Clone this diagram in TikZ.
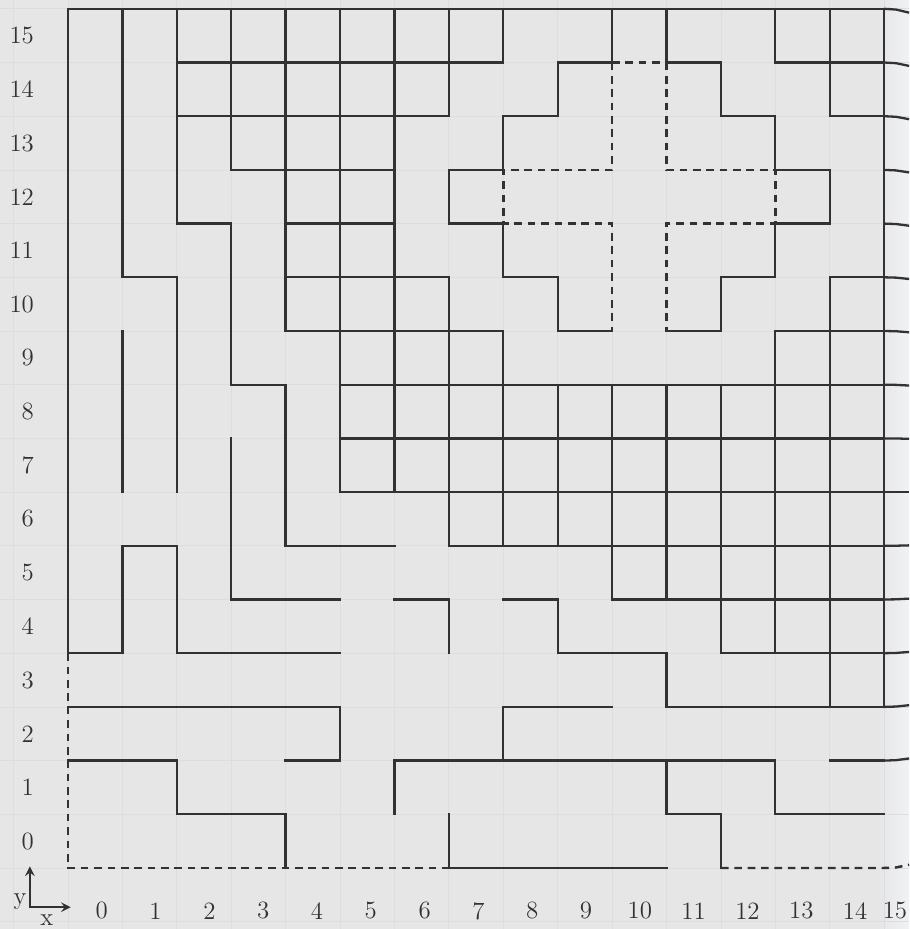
\documentclass[tikz,border=0pt]{standalone}
\usepackage{xcolor}
\usepackage{tikz}
\usetikzlibrary{arrows}
\definecolor{paper}{RGB}{230,230,230}
\definecolor{paperedge}{RGB}{240,242,245}
\definecolor{ink}{RGB}{50,50,50}
\definecolor{faint}{RGB}{221,221,221}
\tikzstyle{wall} = [line width=1.2pt, draw=ink, line cap=rect, line join=miter]
\tikzstyle{edgewall} = [line width=1.2pt, draw=ink, line join=round]
\tikzstyle{dashwall} = [line width=1.3pt, draw=ink, dash pattern=on 4pt off 3pt]
\tikzstyle{axislabel} = [text=ink, font=\fontsize{13}{15}\selectfont, inner sep=0pt]
\tikzstyle{arrow} = [line width=1.2pt, draw=ink, <->, >=stealth]

\begin{document}
\begin{tikzpicture}[x=1cm, y=0.987cm]
  \useasboundingbox (-1.25,-1.136) rectangle (15.46,16.164);
  \fill[paper] (-1.25,-1.136) rectangle (15.46,16.164);
  \shade[left color=paper, right color=paperedge] (14.9,-1.136) rectangle (15.46,16.164);
  \draw[faint, line width=0.4pt, step=1] (-1.25,-1.136) grid (15.46,16.164);

  % outer walls and corridors on the left
  \draw[wall] (0,16) -- (15,16);
  \draw[wall] (0,16) -- (0,4) -- (1,4) -- (1,6) -- (2,6) -- (2,4) -- (5,4);
  \draw[wall] (1,16) -- (1,11) -- (2,11) -- (2,7);
  \draw[wall] (1,10) -- (1,7);
  \draw[wall] (2,16) -- (2,12) -- (3,12) -- (3,9) -- (4,9) -- (4,6) -- (6,6);
  \draw[wall] (3,8) -- (3,5) -- (5,5);
  \draw[wall] (6,5) -- (7,5) -- (7,4);
  \draw[wall] (0,3) -- (5,3) -- (5,2) -- (4,2);
  \draw[wall] (0,2) -- (2,2) -- (2,1) -- (4,1) -- (4,0);
  \draw[wall] (6,1) -- (6,2) -- (13,2) -- (13,1) -- (15,1);
  \draw[wall] (7,1) -- (7,0) -- (11,0);
  \draw[wall] (11,2) -- (11,1) -- (12,1) -- (12,0);
  \draw[wall] (8,2) -- (8,3) -- (10,3);
  \draw[wall] (8,5) -- (9,5) -- (9,4) -- (11,4) -- (11,3) -- (15,3);
  \draw[wall] (14,2) -- (15,2);

  % cells at the top left
  \draw[wall] (3,16) -- (3,13);
  \draw[wall] (4,16) -- (4,10);
  \draw[wall] (5,16) -- (5,7);
  \draw[wall] (6,16) -- (6,7);
  \draw[wall] (7,16) -- (7,14);
  \draw[wall] (7,11) -- (7,6);
  \draw[wall] (8,16) -- (8,15);
  \draw[wall] (8,10) -- (8,6);
  \draw[wall] (2,15) -- (8,15);
  \draw[wall] (2,14) -- (7,14);
  \draw[wall] (3,13) -- (6,13);
  \draw[wall] (4,12) -- (6,12);
  \draw[wall] (4,11) -- (7,11);
  \draw[wall] (4,10) -- (8,10);

  % cells at the right
  \foreach \j in {9,8,7} \draw[wall] (5,\j) -- (15,\j);
  \draw[wall] (7,6) -- (15,6);
  \draw[wall] (10,5) -- (15,5);
  \draw[wall] (12,4) -- (15,4);
  \draw[wall] (13,10) -- (15,10);
  \draw[wall] (14,11) -- (15,11);
  \draw[wall] (14,14) -- (15,14);
  \draw[wall] (13,15) -- (15,15);
  \draw[wall] (9,9) -- (9,6);
  \draw[wall] (10,9) -- (10,5);
  \draw[wall] (11,9) -- (11,5);
  \draw[wall] (12,9) -- (12,4);
  \draw[wall] (13,10) -- (13,4);
  \draw[wall] (14,11) -- (14,3);
  \draw[wall] (15,16) -- (15,3);
  \draw[wall] (13,16) -- (13,15);
  \draw[wall] (14,16) -- (14,14);
  % page bends away at the right
  \foreach \j [evaluate=\j as \bend using {(7-\j)*0.008}] in {2,...,16}
    \draw[edgewall] (15,\j) -- (15.22,{\j+0.2*\bend}) -- (15.46,{\j+\bend});

  % the cross
  \draw[wall] (10,16) -- (10,15) -- (9,15) -- (9,14) -- (8,14) -- (8,13) -- (7,13)
    -- (7,12) -- (8,12) -- (8,11) -- (9,11) -- (9,10) -- (10,10);
  \draw[wall] (11,16) -- (11,15) -- (12,15) -- (12,14) -- (13,14) -- (13,13) -- (14,13)
    -- (14,12) -- (13,12) -- (13,11) -- (12,11) -- (12,10) -- (11,10);
  \draw[dashwall] (10,15) -- (11,15);
  \draw[dashwall] (10,15) -- (10,13) -- (8,13) -- (8,12) -- (10,12) -- (10,10);
  \draw[dashwall] (11,15) -- (11,13) -- (13,13) -- (13,12) -- (11,12) -- (11,10);

  % dashed border
  \draw[dashwall] (0,4) -- (0,0) -- (7,0);
  \draw[dashwall] (12,0) -- (15,0) -- (15.22,0.01) -- (15.46,0.06);

  % labels
  \foreach \r in {0,...,15}
    \node[axislabel, anchor=east] (ylab\r) at (-0.62,\r+0.5) {\r};
  \foreach \c in {0,...,14}
    \node[axislabel] (xlab\c) at ({0.62+0.989*\c},-0.8) {\c};
  \node[axislabel] (xlab15) at (15.2,-0.8) {15};

  % axes sign
  \coordinate (origin) at (-0.7,-0.73);
  \coordinate (yhead) at (-0.7,0.03);
  \coordinate (xhead) at (0.05,-0.73);
  \draw[arrow] (yhead) -- (origin) -- (xhead);
  \node[axislabel] (ysign) at (-0.88,-0.62) {y};
  \node[axislabel] (xsign) at (-0.39,-0.98) {x};
\end{tikzpicture}
\end{document}
